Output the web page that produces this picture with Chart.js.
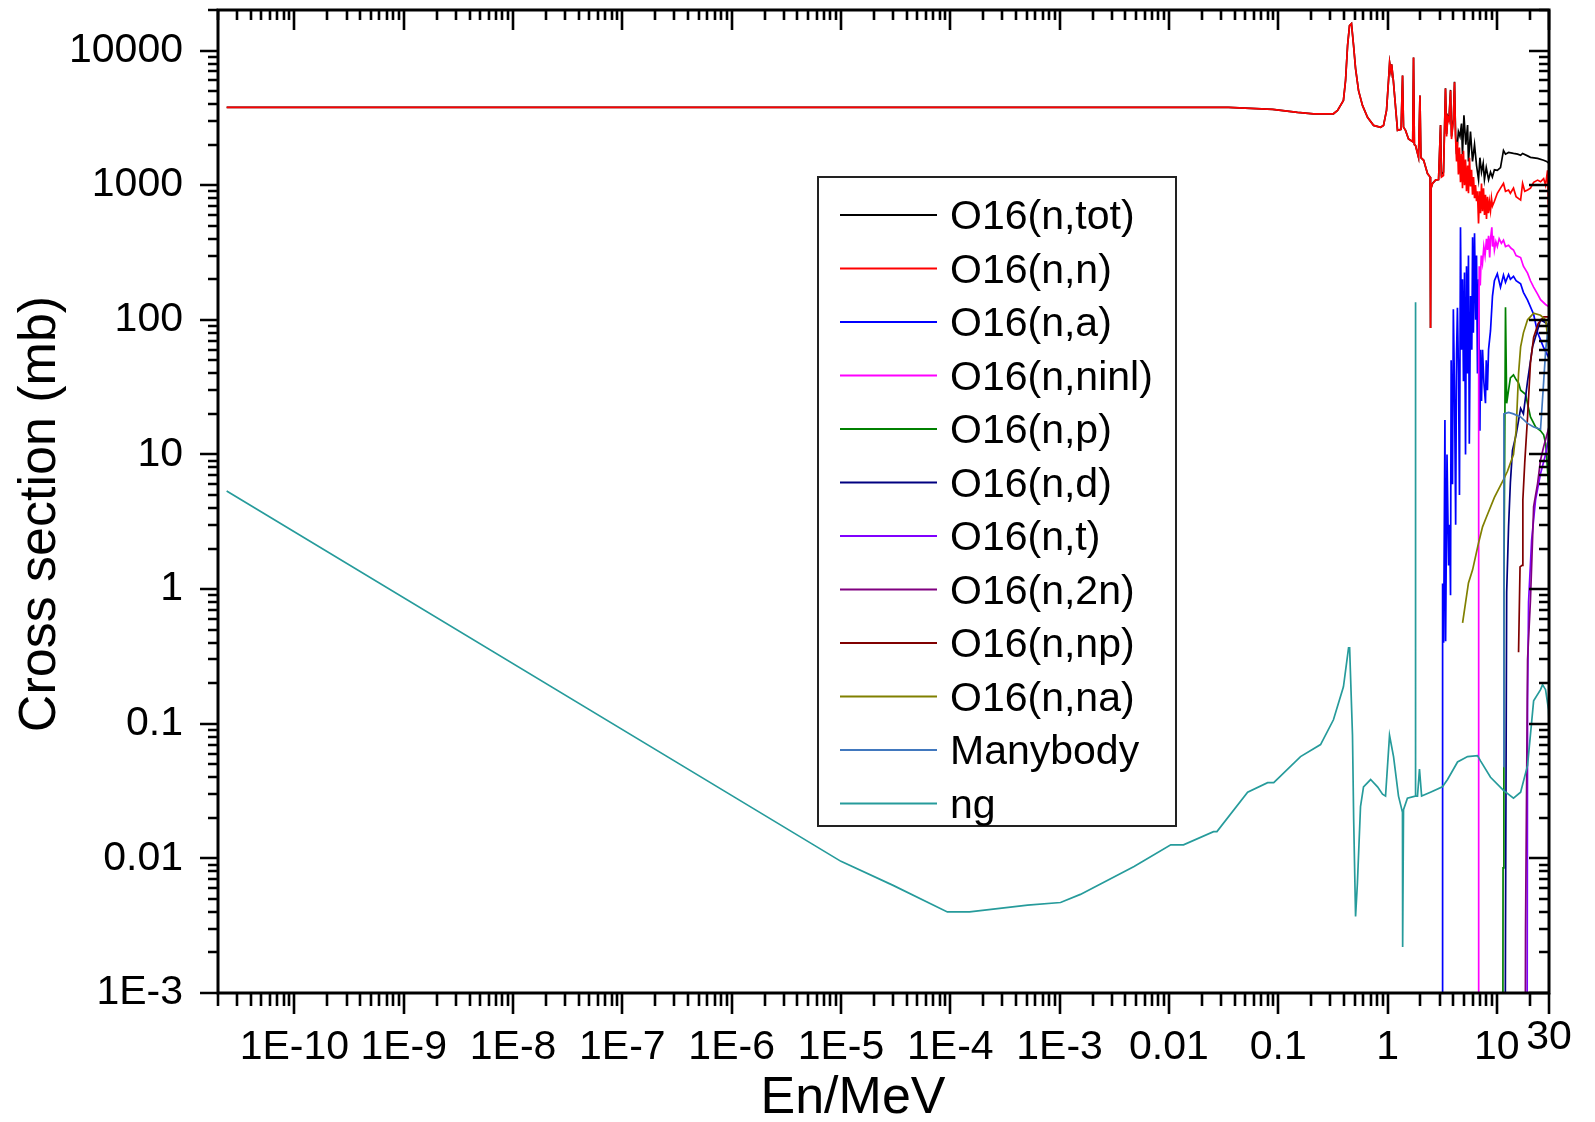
<!DOCTYPE html>
<html>
<head>
<meta charset="utf-8">
<title>O16 neutron cross sections</title>
<script src="https://cdn.jsdelivr.net/npm/chart.js@4.4.1/dist/chart.umd.min.js"></script>
<style>
  html, body { margin: 0; padding: 0; background: #fff; }
  canvas { display: block; }
</style>
</head>
<body>
<canvas id="xsChart" width="1595" height="1122"></canvas>
<script>
const FONT = 'Arial, "Liberation Sans", sans-serif';

// axis ticks (log-log, energy in MeV, cross section in mb)
const xTickVals = [1e-10, 1e-9, 1e-8, 1e-7, 1e-6, 1e-5, 1e-4, 1e-3, 0.01, 0.1, 1, 10, 30];
const xTickLabels = ['1E-10', '1E-9', '1E-8', '1E-7', '1E-6', '1E-5', '1E-4', '1E-3', '0.01', '0.1', '1', '10', '30'];
const yTickVals = [1e4, 1000, 100, 10, 1, 0.1, 0.01, 1e-3];
const yTickLabels = ['10000', '1000', '100', '10', '1', '0.1', '0.01', '1E-3'];

// below ~3 MeV the total equals the elastic channel
const sharedLowPts = [
  [2.4e-11, 3780], [0.035, 3780], [0.089, 3650], [0.15, 3470], [0.21, 3390], [0.32, 3390],
  [0.349, 3590], [0.395, 4260], [0.413, 5990], [0.431, 10900], [0.449, 15300], [0.468, 15850],
  [0.489, 10900], [0.51, 7350], [0.543, 5040], [0.59, 3910], [0.656, 3190], [0.745, 2780],
  [0.863, 2690], [0.919, 2780], [0.979, 3590], [1.021, 5990], [1.045, 8150], [1.075, 7000],
  [1.09, 7900], [1.13, 6000], [1.16, 4640], [1.234, 2550], [1.33, 2600], [1.372, 6530],
  [1.40, 2700], [1.461, 2550], [1.556, 2200], [1.70, 2100], [1.729, 8880], [1.76, 2000],
  [1.803, 1970], [1.92, 1610], [1.98, 4640], [2.02, 1600], [2.14, 1530], [2.32, 1220],
  [2.45, 1150], [2.474, 87], [2.50, 950], [2.58, 1030], [2.75, 1090], [2.93, 1100]
];
const nnHighPts = [
  [3.054, 2780], [3.11, 1150], [3.25, 1180], [3.39, 5220], [3.47, 2300], [3.56, 3190],
  [3.65, 3000], [3.77, 5050], [3.85, 2200], [4.0, 3000], [4.10, 5800], [4.19, 2270],
  [4.28, 1500], [4.36, 2100], [4.45, 1200], [4.55, 1900], [4.65, 1050], [4.75, 1700],
  [4.85, 950], [4.95, 1800], [5.06, 1000], [5.17, 1550], [5.28, 900], [5.40, 1400],
  [5.50, 870], [5.62, 1600], [5.74, 980], [5.87, 1300], [5.99, 850], [6.12, 1150],
  [6.25, 800], [6.38, 1000], [6.52, 760], [6.65, 900], [6.80, 520], [6.94, 900],
  [7.09, 620], [7.24, 1030], [7.39, 640], [7.55, 950], [7.71, 600], [7.87, 850],
  [8.04, 560], [8.21, 820], [8.39, 620], [8.56, 750], [8.75, 650], [8.93, 800],
  [9.12, 700], [9.5, 760], [10.1, 870], [10.8, 950], [11.5, 1030], [12.0, 900],
  [12.8, 920], [13.3, 870], [14.2, 950], [15.0, 820], [16.5, 775], [17.2, 1030],
  [18.0, 900], [19.1, 920], [20.3, 950], [21.7, 1050], [23.6, 1090], [25.1, 1060],
  [26.8, 1120], [27.9, 1000], [29.1, 1290], [29.5, 800], [30, 560]
];
const totHighPts = [
  [3.054, 2800], [3.11, 1200], [3.25, 1250], [3.39, 5250], [3.47, 2400], [3.56, 3250],
  [3.65, 3100], [3.77, 5100], [3.85, 2300], [4.0, 3100], [4.10, 5850], [4.19, 2400],
  [4.28, 1700], [4.45, 2500], [4.6, 2300], [4.75, 2870], [4.85, 1700], [5.0, 3300],
  [5.2, 2000], [5.4, 2800], [5.5, 1500], [5.74, 2500], [5.99, 1500], [6.25, 2000],
  [6.52, 1400], [6.8, 1100], [7.0, 1600], [7.24, 1250], [7.5, 1450], [7.7, 1100],
  [8.0, 1350], [8.4, 1100], [8.75, 1250], [9.1, 1150], [9.5, 1300], [10.1, 1290],
  [10.8, 1350], [11.5, 1810], [12.0, 1700], [12.8, 1750], [14.2, 1720], [15.5, 1700],
  [16.5, 1665], [17.2, 1720], [19.1, 1650], [20.3, 1610], [23.6, 1580], [26.8, 1530],
  [28.5, 1500], [30, 1450]
];
const naPts = [
  [3.15, 1e-4], [3.18, 0.02], [3.2, 1.1], [3.26, 0.4], [3.35, 18], [3.40, 0.41],
  [3.5, 10], [3.62, 1.5], [3.7, 3], [3.77, 0.9], [3.82, 50], [3.93, 6], [4.0, 120],
  [4.1, 30], [4.2, 3], [4.28, 56], [4.36, 123], [4.46, 40], [4.55, 5], [4.65, 486],
  [4.75, 60], [4.85, 200], [4.95, 35], [5.06, 225], [5.17, 10], [5.28, 250], [5.4, 40],
  [5.5, 300], [5.6, 12], [5.75, 150], [5.9, 60], [6.0, 410], [6.1, 80], [6.25, 440],
  [6.4, 100], [6.52, 300], [6.65, 40], [6.8, 200], [7.0, 15], [7.09, 60], [7.24, 25],
  [7.4, 60], [7.6, 35], [7.87, 24], [8.0, 50], [8.2, 30], [8.4, 60], [8.75, 83],
  [9.12, 150], [9.5, 195], [10.1, 220], [10.8, 175], [11.5, 215], [12.0, 190],
  [12.8, 217], [13.3, 200], [14.2, 210], [15.0, 195], [16.5, 185], [17.5, 160],
  [19.1, 140], [21.7, 110], [23.6, 80], [25.1, 71], [26.8, 62], [30, 52]
];
const ninlPts = [
  [6.78, 1e-5], [6.82, 60], [6.9, 250], [7.05, 180], [7.2, 300], [7.39, 263], [7.6, 350],
  [7.8, 300], [8.04, 400], [8.2, 330], [8.4, 420], [8.6, 290], [8.75, 400], [9.0, 486],
  [9.12, 350], [9.3, 420], [9.5, 330], [9.8, 380], [10.1, 350], [10.5, 400], [11.0, 370],
  [11.5, 390], [12.0, 350], [12.8, 358], [13.5, 340], [14.2, 330], [15.0, 300],
  [16.5, 290], [17.5, 250], [19.1, 222], [20.3, 195], [21.7, 175], [23.6, 155],
  [25.1, 141], [27.9, 130], [30, 125]
];
const npPts = [
  [11.3, 1e-5], [11.4, 0.0085], [11.6, 1], [12.0, 124], [12.3, 24], [12.8, 30],
  [13.3, 37], [14.2, 39], [15.0, 36], [15.8, 34], [16.5, 30], [18.3, 28], [20.3, 19],
  [22.6, 16], [25.1, 15], [26.8, 14], [28, 12], [29, 8], [30, 5]
];
const ndPts = [
  [11.8, 1e-5], [12.0, 0.003], [12.3, 0.95], [12.8, 2.9], [13.3, 6.2], [13.9, 10.7],
  [15.0, 14], [16.5, 22], [17.5, 20], [19.1, 35], [21.2, 63], [23.6, 84], [25.1, 100],
  [27.9, 95], [30, 90]
];
const ntPts = [
  [18.8, 1e-5], [19.1, 0.15], [19.5, 0.8], [20.8, 2.3], [22.6, 4.6], [25.1, 7.2],
  [27.9, 10], [29.5, 12.6], [30, 17]
];
const n2nPts = [
  [18.0, 1e-5], [18.3, 0.003], [19.1, 0.3], [20.3, 0.83], [21.2, 2.3], [21.7, 4.1],
  [23.6, 6.1], [25.1, 9.1], [26.8, 11.4], [30, 16]
];
const nnpPts = [
  [15.8, 0.34], [16.3, 1.46], [17.0, 1.5], [17.3, 4.6], [18.0, 8.7], [19.1, 19],
  [20.3, 48], [21.7, 74], [23.9, 94], [26.8, 105], [29.5, 105], [30, 100]
];
const nnaPts = [
  [4.86, 0.56], [5.5, 1.11], [6.0, 1.39], [6.8, 2.2], [7.4, 2.9], [8.0, 3.4], [9.5, 4.8],
  [11.5, 6.5], [12.5, 7.5], [14.2, 10], [15.0, 15], [15.8, 40], [16.5, 63], [17.5, 80],
  [19.1, 100], [21.7, 112], [25.1, 108], [28, 100], [30, 60]
];
const manyPts = [
  [11.5, 0.048], [11.6, 20], [12.8, 20.5], [14.2, 20], [16.5, 19], [19.1, 17],
  [21.7, 16], [25.1, 15.4], [26.5, 30], [28, 60], [30, 100]
];
const ngPts = [
  [2.4e-11, 5.35], [1e-5, 0.0095], [3e-5, 0.0063], [9.4e-5, 0.0040], [1.5e-4, 0.0040],
  [5.1e-4, 0.0045], [1.02e-3, 0.0047], [1.55e-3, 0.0054], [4.8e-3, 0.0087], [0.0104, 0.0126],
  [0.0136, 0.0126], [0.0256, 0.0158], [0.0275, 0.0158], [0.0525, 0.031], [0.080, 0.0365],
  [0.091, 0.0365], [0.16, 0.057], [0.244, 0.070], [0.32, 0.107], [0.395, 0.188],
  [0.44, 0.366], [0.45, 0.366], [0.478, 0.082], [0.49, 0.0195], [0.51, 0.0037],
  [0.53, 0.0065], [0.566, 0.0242], [0.603, 0.034], [0.70, 0.0385], [0.81, 0.034],
  [0.90, 0.030], [0.959, 0.029], [1.043, 0.082], [1.135, 0.057], [1.26, 0.029],
  [1.37, 0.022], [1.375, 0.0022], [1.40, 0.023], [1.52, 0.028], [1.79, 0.029],
  [1.80, 135], [1.81, 0.029], [1.88, 0.029], [1.96, 0.046], [2.05, 0.029], [2.47, 0.031],
  [3.18, 0.034], [3.54, 0.0385], [4.37, 0.052], [5.40, 0.057], [6.66, 0.058], [7.09, 0.053],
  [8.75, 0.040], [11.5, 0.032], [14.2, 0.028], [16.5, 0.031], [19.1, 0.049], [21.7, 0.148],
  [25.1, 0.179], [26.2, 0.195], [27.9, 0.179], [29.7, 0.127], [30, 0.103]
];

const seriesLabels = ['O16(n,tot)', 'O16(n,n)', 'O16(n,a)', 'O16(n,ninl)', 'O16(n,p)', 'O16(n,d)',
  'O16(n,t)', 'O16(n,2n)', 'O16(n,np)', 'O16(n,na)', 'Manybody', 'ng'];
const seriesColors = ['#000000', '#ff0000', '#0000ff', '#ff00ff', '#008000', '#000080',
  '#8000ff', '#800080', '#800000', '#808000', '#4178be', '#269b9b'];
const seriesPts = [
  sharedLowPts.concat(totHighPts), sharedLowPts.concat(nnHighPts), naPts, ninlPts, npPts,
  ndPts, ntPts, n2nPts, nnpPts, nnaPts, manyPts, ngPts
];

// Origin-style frame: ticks on all four sides, minor ticks at 2..9 per decade
function logTicks(min, max, majors) {
  const out = [];
  for (let d = Math.floor(Math.log10(min)); d <= Math.ceil(Math.log10(max)); d++) {
    for (let k = 1; k <= 9; k++) {
      const v = k * Math.pow(10, d);
      if (v < min * 0.999 || v > max * 1.001) continue;
      const major = majors.some(m => Math.abs(m - v) / m < 1e-6);
      out.push({ v, major });
    }
  }
  return out;
}

const framePlugin = {
  id: 'frameAndLegend',
  afterDraw(chart) {
    const { ctx, chartArea: a } = chart;
    const xs = chart.scales.x, ys = chart.scales.y;
    ctx.save();
    ctx.strokeStyle = '#000';
    ctx.lineCap = 'butt';

    ctx.lineWidth = 2.6;
    ctx.beginPath();
    logTicks(xs.min, xs.max, xTickVals).forEach(t => {
      const px = Math.round(xs.getPixelForValue(t.v));
      ctx.moveTo(px, a.bottom); ctx.lineTo(px, a.bottom + (t.major ? 21 : 13));
      ctx.moveTo(px, a.top); ctx.lineTo(px, a.top + (t.major ? 20 : 10));
    });
    logTicks(ys.min, ys.max, yTickVals).forEach(t => {
      const py = Math.round(ys.getPixelForValue(t.v));
      ctx.moveTo(a.left, py); ctx.lineTo(a.left - (t.major ? 18 : 10), py);
      ctx.moveTo(a.right, py); ctx.lineTo(a.right - (t.major ? 20 : 10), py);
    });
    ctx.stroke();

    ctx.lineWidth = 3;
    ctx.strokeRect(a.left, a.top, a.right - a.left, a.bottom - a.top);

    // legend box
    const lx = 818, ly = 177, lw = 358, lh = 649;
    ctx.fillStyle = '#fff';
    ctx.fillRect(lx, ly, lw, lh);
    ctx.lineWidth = 2;
    ctx.strokeStyle = '#222';
    ctx.strokeRect(lx, ly, lw, lh);
    ctx.font = '41px ' + FONT;
    ctx.textBaseline = 'middle';
    ctx.textAlign = 'left';
    chart.data.datasets.forEach((ds, i) => {
      const y = 215 + i * 53.5;
      ctx.strokeStyle = ds.borderColor;
      ctx.lineWidth = 1.8;
      ctx.beginPath();
      ctx.moveTo(840, y); ctx.lineTo(937, y);
      ctx.stroke();
      ctx.fillStyle = '#000';
      ctx.fillText(ds.label, 950, y + 3);
    });

    // axis titles
    ctx.fillStyle = '#000';
    ctx.font = '52px ' + FONT;
    ctx.textAlign = 'center';
    ctx.fillText('En/MeV', 853, 1099);
    ctx.translate(41, 514);
    ctx.rotate(-Math.PI / 2);
    ctx.fillText('Cross section (mb)', 0, 0);
    ctx.restore();
  }
};

new Chart(document.getElementById('xsChart'), {
  type: 'line',
  data: {
    datasets: seriesLabels.map((label, i) => ({
      label,
      data: seriesPts[i].map(p => ({ x: p[0], y: p[1] })),
      borderColor: seriesColors[i],
      backgroundColor: seriesColors[i],
      borderWidth: 1.7,
      pointRadius: 0,
      tension: 0,
      fill: false,
      order: -i
    }))
  },
  options: {
    responsive: false,
    animation: false,
    layout: { padding: { top: 10, right: 46, left: 0, bottom: 0 } },
    plugins: { legend: { display: false }, tooltip: { enabled: false } },
    scales: {
      x: {
        type: 'logarithmic',
        min: 2e-11,
        max: 30,
        bounds: 'data',
        afterFit: (s) => {
          s.height = 129;
          s.paddingLeft = 0; s.paddingRight = 0; s.paddingTop = 0; s.paddingBottom = 0;
        },
        afterBuildTicks: (s) => { s.ticks = xTickVals.map(v => ({ value: v, major: true })); },
        grid: { display: false, drawTicks: false },
        border: { display: false },
        ticks: {
          autoSkip: false,
          maxRotation: 0,
          minRotation: 0,
          padding: 30,
          color: '#000',
          font: (ctx) => ({ family: FONT, size: 41, lineHeight: ctx.tick && ctx.tick.value === 30 ? 0.7 : 1.2 }),
          callback: (v, i) => xTickLabels[i]
        }
      },
      y: {
        type: 'logarithmic',
        min: 1e-3,
        max: 2e4,
        bounds: 'data',
        afterFit: (s) => {
          s.width = 218;
          s.paddingLeft = 0; s.paddingRight = 0; s.paddingTop = 0; s.paddingBottom = 0;
        },
        afterBuildTicks: (s) => { s.ticks = yTickVals.map(v => ({ value: v, major: true })); },
        grid: { display: false, drawTicks: false },
        border: { display: false },
        ticks: {
          autoSkip: false,
          padding: 35,
          color: '#000',
          font: { family: FONT, size: 41 },
          callback: (v, i) => yTickLabels[i]
        }
      }
    }
  },
  plugins: [framePlugin]
});
</script>
</body>
</html>
